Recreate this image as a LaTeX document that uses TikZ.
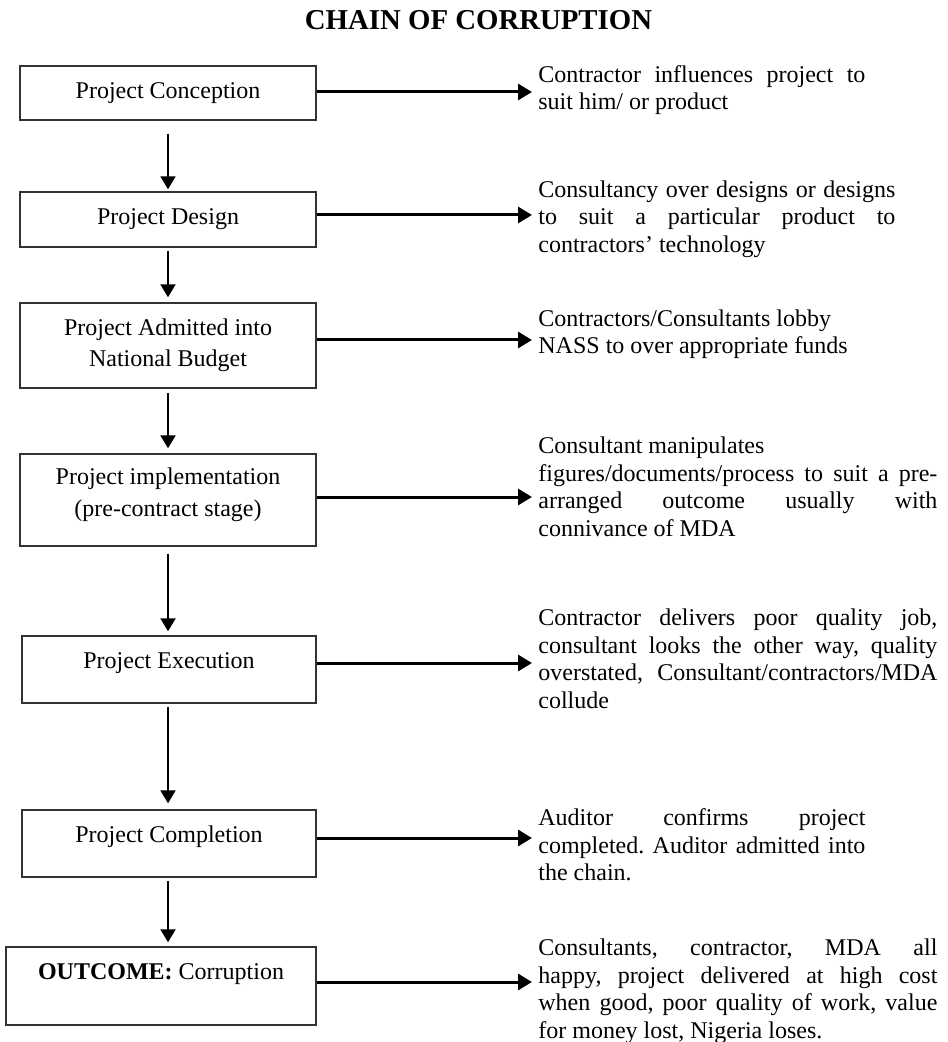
\documentclass[tikz,border=0pt]{standalone}
\usepackage{fontspec}
\setmainfont{Liberation Serif}
\usetikzlibrary{arrows.meta}
\newcommand{\jline}[2]{\makebox[#1][s]{#2}}
\frenchspacing
\begin{document}
\begin{tikzpicture}[x=0.5pt,y=-0.5pt,
  box/.style={draw=black!80, line width=0.7pt, inner sep=0pt, minimum width=148pt},
  btext/.style={anchor=north, inner sep=0pt, align=center, font=\fontsize{12}{15.8}\selectfont, yshift=11.06pt},
  rtext/.style={anchor=north west, inner sep=0pt, align=left, font=\fontsize{12}{13.8}\selectfont, yshift=9.66pt},
  harrow/.style={line width=1.5pt, -{Triangle[length=7pt,width=8pt]}},
  varrow/.style={line width=1pt, -{Triangle[length=6.5pt,width=7.5pt]}}
]
\useasboundingbox (0,0) rectangle (947,1042);

% title
\node[anchor=base, inner sep=0pt, font=\fontsize{14.4}{17}\selectfont\bfseries] (title) at (478.5,30) {CHAIN OF CORRUPTION};

% boxes
\node[box, minimum height=27pt] (b1) at (168,93) {};
\node[box, minimum height=27.5pt] (b2) at (168,219.5) {};
\node[box, minimum height=42.5pt] (b3) at (168,345.5) {};
\node[box, minimum height=46pt] (b4) at (168,500) {};
\node[box, minimum width=147pt, minimum height=33.5pt] (b5) at (169,669.5) {};
\node[box, minimum width=147pt, minimum height=33.5pt] (b6) at (169,843.5) {};
\node[box, minimum width=155pt, minimum height=39pt] (b7) at (161,986) {};

% box labels
\node[btext] (l1) at (168,98) {\strut Project Conception};
\node[btext] (l2) at (168,224) {\strut Project Design};
\node[btext] (l3) at (168,335) {\strut Project Admitted into\\National Budget};
\node[btext] (l4) at (168,484) {\strut Project implementation\\(pre-contract stage)};
\node[btext] (l5) at (169,668) {\strut Project Execution};
\node[btext] (l6) at (169,842) {\strut Project Completion};
\node[btext] (l7) at (161,979) {\strut\textbf{OUTCOME:} Corruption};

% right texts
\node[rtext] (t1) at (538,82) {\strut\jline{163.5pt}{Contractor influences project to}\\suit him/ or product};
\node[rtext] (t2) at (538,197) {\strut\jline{178.5pt}{Consultancy over designs or designs}\\\jline{178.5pt}{to suit a particular product to}\\contractors’ technology};
\node[rtext] (t3) at (538,326) {\strut Contractors/Consultants lobby\\NASS to over appropriate funds};
\node[rtext] (t4) at (538,453) {\strut Consultant manipulates\\\jline{199.5pt}{figures/documents/process to suit a pre-}\\\jline{199.5pt}{arranged outcome usually with}\\connivance of MDA};
\node[rtext] (t5) at (538,625) {\strut\jline{199.5pt}{Contractor delivers poor quality job,}\\\jline{199.5pt}{consultant looks the other way, quality}\\\jline{199.5pt}{overstated, Consultant/contractors/MDA}\\collude};
\node[rtext] (t6) at (538,825) {\strut\jline{163.5pt}{Auditor confirms project}\\\jline{163.5pt}{completed. Auditor admitted into}\\the chain.};
\node[rtext] (t7) at (538,955) {\strut\jline{199.5pt}{Consultants, contractor, MDA all}\\\jline{199.5pt}{happy, project delivered at high cost}\\\jline{199.5pt}{when good, poor quality of work, value}\\for money lost, Nigeria loses.};

% arrow tips at the texts
\coordinate (e1) at (532,92);
\coordinate (e2) at (532,215);
\coordinate (e3) at (532,340);
\coordinate (e4) at (532,497);
\coordinate (e5) at (532,663);
\coordinate (e6) at (532,838);
\coordinate (e7) at (532,982);

% horizontal arrows
\draw[harrow] (b1.east |- e1) -- (e1);
\draw[harrow] (b2.east |- e2) -- (e2);
\draw[harrow] (b3.east |- e3) -- (e3);
\draw[harrow] (b4.east |- e4) -- (e4);
\draw[harrow] (b5.east |- e5) -- (e5);
\draw[harrow] (b6.east |- e6) -- (e6);
\draw[harrow] (b7.east |- e7) -- (e7);

% vertical arrows
\draw[varrow, shorten <=6.5pt, shorten >=1pt] (b1.south) -- (b1.south |- b2.north);
\draw[varrow, shorten <=1.5pt, shorten >=2.5pt] (b2.south) -- (b2.south |- b3.north);
\draw[varrow, shorten <=2pt, shorten >=2.5pt] (b3.south) -- (b3.south |- b4.north);
\draw[varrow, shorten <=3.5pt, shorten >=2pt] (b4.south) -- (b4.south |- b5.north);
\draw[varrow, shorten <=1.5pt, shorten >=3pt] (b4.south |- b5.south) -- (b4.south |- b6.north);
\draw[varrow, shorten <=1.5pt, shorten >=2pt] (b4.south |- b6.south) -- (b4.south |- b7.north);
\end{tikzpicture}
\end{document}
